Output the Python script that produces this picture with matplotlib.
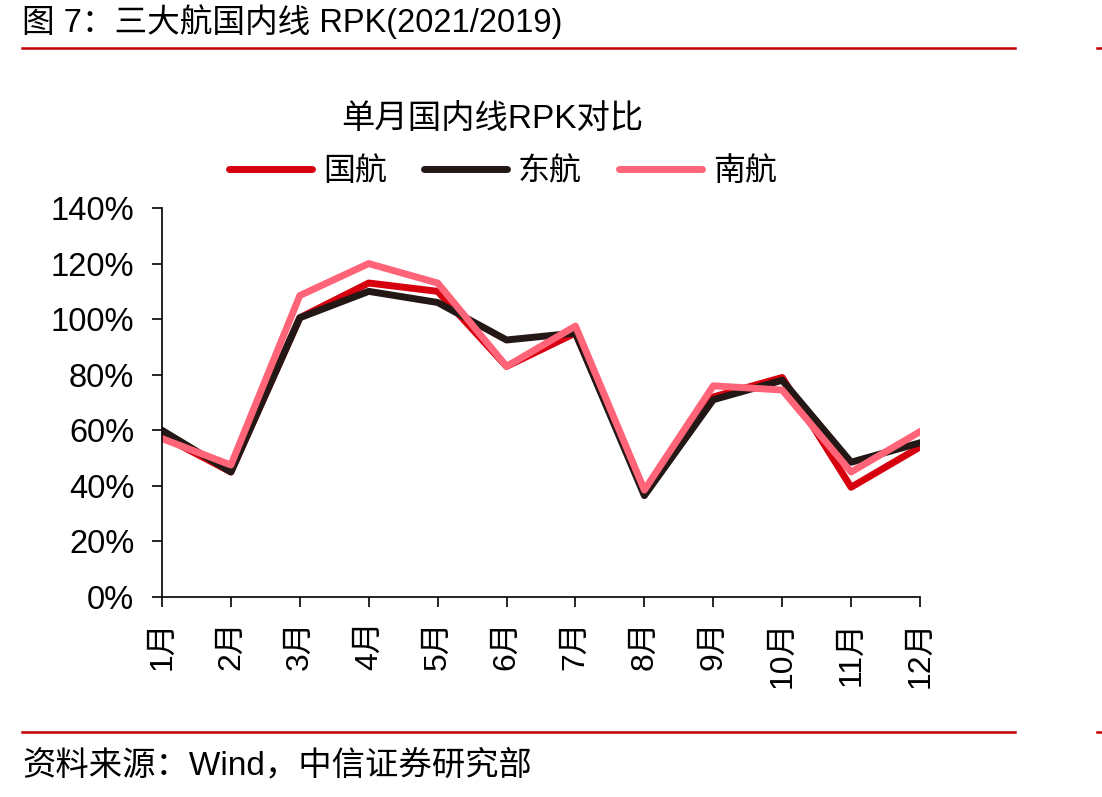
import numpy as np
import matplotlib.pyplot as plt
from matplotlib.lines import Line2D
from matplotlib.ticker import FuncFormatter

plt.rcParams['font.family'] = ['Liberation Sans', 'Noto Sans CJK SC']
plt.rcParams['axes.unicode_minus'] = False

months = ["1月", "2月", "3月", "4月", "5月", "6月", "7月", "8月", "9月", "10月", "11月", "12月"]
air_china = [58, 45, 100.5, 113, 110, 83, 95, 37.5, 72, 79, 39.5, 54]
china_eastern = [60, 45, 100.5, 110, 106, 92.5, 95, 36.5, 71, 78, 48.5, 55.5]
china_southern = [57, 47.5, 108.5, 120, 113, 83, 97.5, 38.5, 76, 74.5, 45, 59.5]

series = [
    ("国航", air_china, "#D7000F"),
    ("东航", china_eastern, "#231815"),
    ("南航", china_southern, "#FF6478"),
]

fig = plt.figure(figsize=(11.02, 7.97), dpi=100)
ax = fig.add_axes([162 / 1102, 200 / 797, 758 / 1102, 389 / 797])

x = np.arange(len(months))
for name, vals, color in series:
    ax.plot(x, vals, color=color, lw=5, label=name)

ax.set_xlim(0, len(months) - 1)
ax.set_ylim(0, 140)
ax.set_yticks(np.arange(0, 141, 20))
ax.yaxis.set_major_formatter(FuncFormatter(lambda v, p: f"{v:.0f}%"))
ax.set_xticks(x)
ax.set_xticklabels(months, rotation=90, fontsize=23)
ax.tick_params(axis="y", labelsize=23.5, direction="out", length=7, width=1.2, pad=13)
ax.tick_params(axis="x", direction="out", length=7, width=1.2, pad=10)
for s in ["top", "right"]:
    ax.spines[s].set_visible(False)
ax.spines["left"].set_linewidth(1.2)
ax.spines["bottom"].set_linewidth(1.2)

fig.text(492 / 1102, 1 - 119 / 797, "单月国内线RPK对比", ha="center", va="center", fontsize=24)
handles = [Line2D([0], [0], color=c, lw=5, solid_capstyle="round") for _, _, c in series]
fig.legend(handles, [n for n, _, _ in series], loc="center", bbox_to_anchor=(503 / 1102, 1 - 172 / 797),
           ncol=3, frameon=False, fontsize=23, handlelength=2.6, columnspacing=1.15, handletextpad=0.35)

# header and footer
fig.text(22 / 1102, 1 - 22 / 797, "图 7：三大航国内线 RPK(2021/2019)", ha="left", va="center", fontsize=23.5)
fig.text(22 / 1102, 1 - 766 / 797, "资料来源：Wind，中信证券研究部", ha="left", va="center", fontsize=24)
for yy in [48, 732]:
    fig.add_artist(Line2D([22 / 1102, 1015 / 1102], [1 - yy / 797] * 2, color="#C00000", lw=1.8))
    fig.add_artist(Line2D([1097 / 1102, 1.0], [1 - yy / 797] * 2, color="#C00000", lw=1.8))

fig.savefig("out.png", dpi=100)
